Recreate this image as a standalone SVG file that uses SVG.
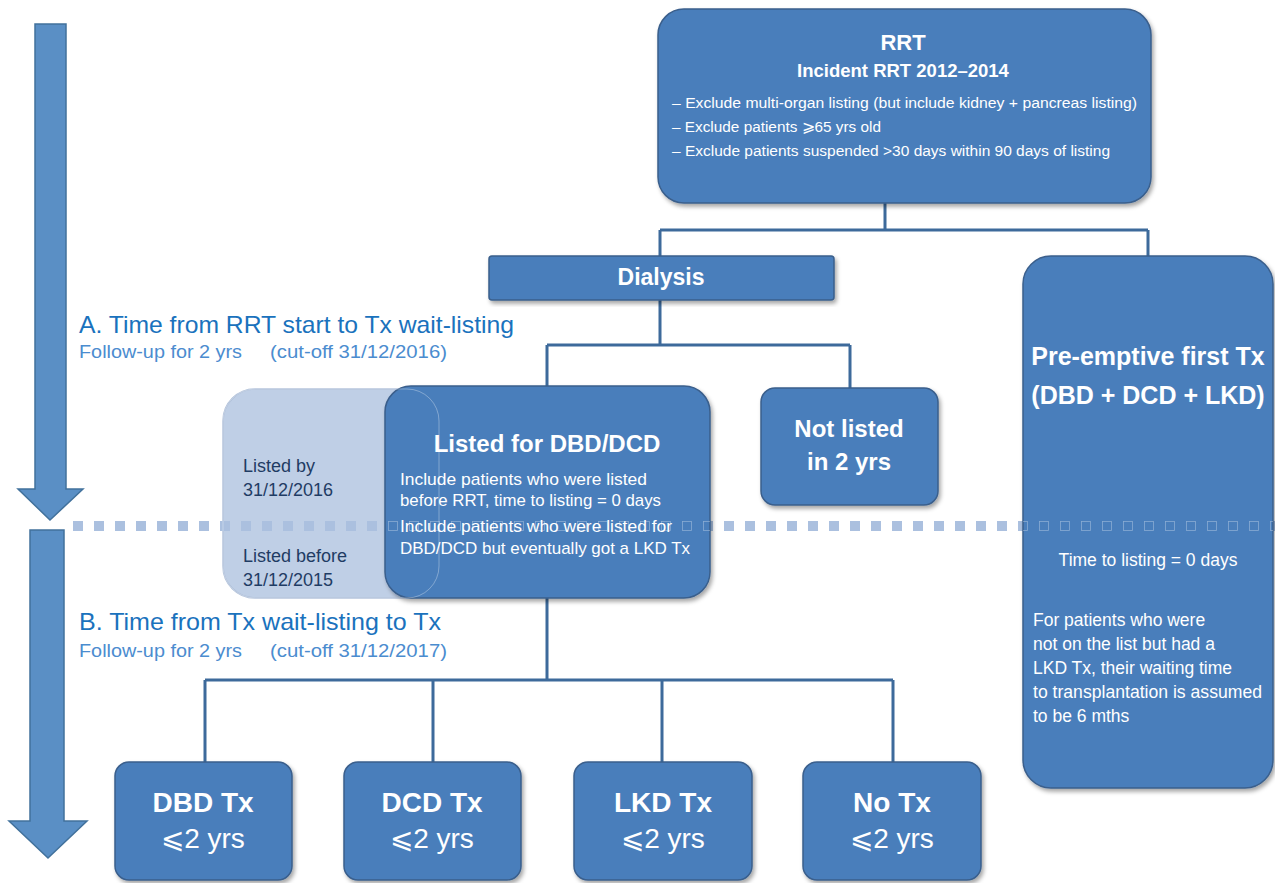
<svg xmlns="http://www.w3.org/2000/svg" width="1275" height="883" viewBox="0 0 1275 883">
<defs>
<filter id="sh" x="-10%" y="-10%" width="125%" height="125%"><feDropShadow dx="2" dy="3" stdDeviation="2" flood-color="#000" flood-opacity="0.35"/></filter>
<pattern id="dots" x="73" y="521" width="21" height="10" patternUnits="userSpaceOnUse"><rect x="0.5" y="0.5" width="9" height="9" fill="none" stroke="#ffffff" stroke-opacity="0.35" stroke-width="0.8"/></pattern>
<style>
.box{fill:#4a7ebb;stroke:#3a5f8c;stroke-width:1.5;filter:url(#sh)}
.t{font-family:"Liberation Sans",Arial,sans-serif;fill:#fff}
.b{font-weight:bold}
.c{text-anchor:middle}
.con{fill:none;stroke:#3d6a9b;stroke-width:3}
.arrow{fill:#5a8fc5;stroke:#41719c;stroke-width:1.5}
.hd{font-family:"Liberation Sans",Arial,sans-serif;fill:#1a72bd}
.sub{font-family:"Liberation Sans",Arial,sans-serif;fill:#4b8ccf;font-size:18px}
.nv{font-family:"Liberation Sans",Arial,sans-serif;fill:#1f3c64;font-size:18px}
</style>
</defs>
<rect width="1275" height="883" fill="#fff"/>

<g id="arrows">
<path class="arrow" d="M35,24 H66 V489 H83 L50,520 L18,489 H35 Z"/>
<path class="arrow" d="M30,530 H64 V821 H87 L48,858 L9,821 H30 Z"/>
</g>

<g id="headings">
<text class="hd" x="79" y="333" font-size="24" textLength="435" lengthAdjust="spacingAndGlyphs">A. Time from RRT start to Tx wait-listing</text>
<text class="sub" x="79" y="358" textLength="163" lengthAdjust="spacingAndGlyphs">Follow-up for 2 yrs</text>
<text class="sub" x="270" y="358" textLength="177" lengthAdjust="spacingAndGlyphs">(cut-off 31/12/2016)</text>
<text class="hd" x="79" y="630" font-size="24" textLength="362" lengthAdjust="spacingAndGlyphs">B. Time from Tx wait-listing to Tx</text>
<text class="sub" x="79" y="657" textLength="163" lengthAdjust="spacingAndGlyphs">Follow-up for 2 yrs</text>
<text class="sub" x="270" y="657" textLength="177" lengthAdjust="spacingAndGlyphs">(cut-off 31/12/2017)</text>
</g>

<g id="listed-window">
<rect x="223" y="389" width="216" height="209" rx="32" fill="#bfcfe6" stroke="#a9bbd6" stroke-width="1.5"/>
<text class="nv" x="243" y="472">Listed by</text>
<text class="nv" x="243" y="496">31/12/2016</text>
<text class="nv" x="243" y="562">Listed before</text>
<text class="nv" x="243" y="586">31/12/2015</text>
</g>

<g id="divider">
<line x1="73" y1="526" x2="1275" y2="526" stroke="#abc0df" stroke-width="10" stroke-dasharray="10 11"/>
</g>

<g id="connectors">
<path class="con" d="M885,203 V230 M660,230 H1148 M660,230 V256 M1148,230 V256"/>
<path class="con" d="M660,300 V345 M547,345 H850 M547,345 V387 M850,345 V388"/>
<path class="con" d="M547,598 V680 M205,680 H893 M205,680 V762 M433,680 V762 M662,680 V762 M893,680 V762"/>
</g>

<g id="rrt">
<rect class="box" x="658" y="9" width="493" height="194" rx="26"/>
<text class="t b c" x="903" y="50" font-size="22">RRT</text>
<text class="t b c" x="903" y="77" font-size="18.5">Incident RRT 2012–2014</text>
<text class="t" x="672" y="108" font-size="15.5" textLength="465" lengthAdjust="spacingAndGlyphs">– Exclude multi-organ listing (but include kidney + pancreas listing)</text>
<text class="t" x="672" y="132" font-size="15.5" textLength="209" lengthAdjust="spacingAndGlyphs">– Exclude patients ⩾65 yrs old</text>
<text class="t" x="672" y="156" font-size="15.5" textLength="438" lengthAdjust="spacingAndGlyphs">– Exclude patients suspended &gt;30 days within 90 days of listing</text>
</g>

<g id="dialysis">
<rect class="box" x="489" y="256" width="345" height="44" rx="3"/>
<text class="t b c" x="661" y="285" font-size="23">Dialysis</text>
</g>

<g id="listed">
<rect class="box" x="385" y="386" width="325" height="212" rx="26"/>
<rect x="385" y="521" width="325" height="10" fill="url(#dots)"/>
<rect x="223" y="389" width="216" height="209" rx="32" fill="none" stroke="#ffffff" stroke-opacity="0.4" stroke-width="0.8"/>
<text class="t b c" x="547" y="452" font-size="24">Listed for DBD/DCD</text>
<text class="t" x="400" y="485" font-size="17" textLength="247" lengthAdjust="spacingAndGlyphs">Include patients who were listed</text>
<text class="t" x="400" y="506" font-size="17" textLength="261" lengthAdjust="spacingAndGlyphs">before RRT, time to listing = 0 days</text>
<text class="t" x="400" y="532" font-size="17" textLength="272" lengthAdjust="spacingAndGlyphs">Include patients who were listed for</text>
<text class="t" x="400" y="554" font-size="17" textLength="290" lengthAdjust="spacingAndGlyphs">DBD/DCD but eventually got a LKD Tx</text>
</g>

<g id="notlisted">
<rect class="box" x="761" y="388" width="177" height="117" rx="14"/>
<text class="t b c" x="849" y="437" font-size="24">Not listed</text>
<text class="t b c" x="849" y="470" font-size="24">in 2 yrs</text>
</g>

<g id="preemptive">
<rect class="box" x="1023" y="256" width="250" height="532" rx="28"/>
<rect x="1023" y="521" width="250" height="10" fill="url(#dots)"/>
<text class="t b c" x="1148" y="365" font-size="25">Pre-emptive first Tx</text>
<text class="t b c" x="1148" y="404" font-size="25">(DBD + DCD + LKD)</text>
<text class="t c" x="1148" y="566" font-size="17.5">Time to listing = 0 days</text>
<text class="t" x="1033" y="626" font-size="17.5">For patients who were</text>
<text class="t" x="1033" y="650" font-size="17.5">not on the list but had a</text>
<text class="t" x="1033" y="674" font-size="17.5">LKD Tx, their waiting time</text>
<text class="t" x="1033" y="698" font-size="17.5" textLength="229" lengthAdjust="spacingAndGlyphs">to transplantation is assumed</text>
<text class="t" x="1033" y="722" font-size="17.5">to be 6 mths</text>
</g>

<g id="dbd">
<rect class="box" x="115" y="762" width="177" height="118" rx="14"/>
<text class="t b c" x="203" y="812" font-size="28">DBD Tx</text>
<text class="t c" x="203" y="848" font-size="28">⩽2 yrs</text>
</g>
<g id="dcd">
<rect class="box" x="344" y="762" width="177" height="118" rx="14"/>
<text class="t b c" x="432" y="812" font-size="28">DCD Tx</text>
<text class="t c" x="432" y="848" font-size="28">⩽2 yrs</text>
</g>
<g id="lkd">
<rect class="box" x="574" y="762" width="178" height="118" rx="14"/>
<text class="t b c" x="663" y="812" font-size="28">LKD Tx</text>
<text class="t c" x="663" y="848" font-size="28">⩽2 yrs</text>
</g>
<g id="notx">
<rect class="box" x="803" y="762" width="178" height="118" rx="14"/>
<text class="t b c" x="892" y="812" font-size="28">No Tx</text>
<text class="t c" x="892" y="848" font-size="28">⩽2 yrs</text>
</g>
</svg>
